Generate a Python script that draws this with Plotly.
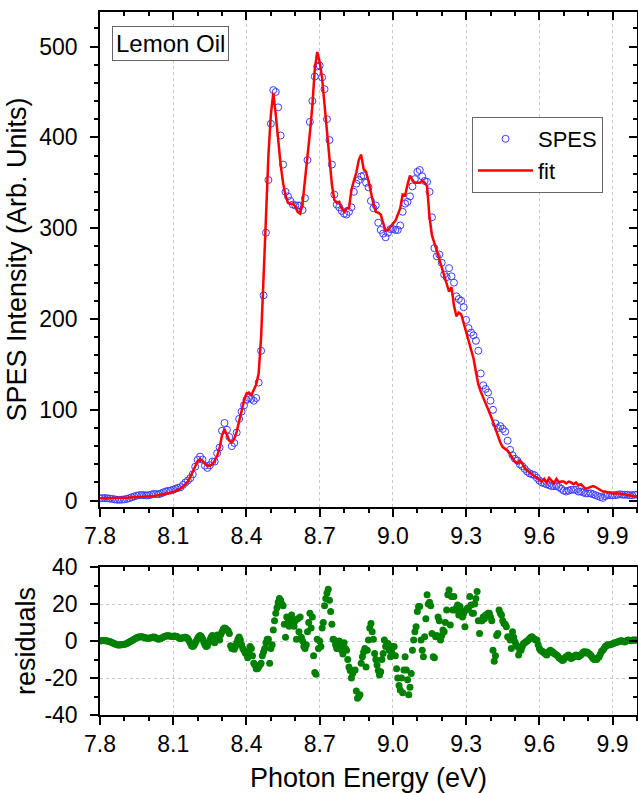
import numpy as np
import plotly.graph_objects as go

# ---------------- data ----------------
E_START = 7.80          # first photon energy (eV)
SPES_STEP = 0.01        # sampling of SPES data and fit
RES_STEP = 0.005        # sampling of residuals

spes_intensity = [
    2.5, 2.8, 2.8, 2.6, 2.3, 1.9, 1.4, 1.0, 0.9, 1.1,
    1.4, 2.0, 2.8, 3.7, 4.6, 5.4, 6.0, 6.2, 6.0, 5.8,
    6.0, 6.6, 7.4, 7.2, 7.0, 7.9, 9.1, 10.1, 10.8, 11.2,
    12.1, 13.2, 14.0, 14.8, 17.3, 20.0, 22.2, 24.8, 29.0, 37.3,
    45.0, 48.5, 45.2, 38.5, 36.0, 39.0, 43.0, 43.0, 52.2, 58.5,
    77, 85.5, 78, 70, 60, 63.5, 75, 90, 98, 105,
    111, 113, 112, 110, 113, 130, 165, 226, 295, 353,
    415, 452, 450, 433, 402, 370, 340, 335, 330, 326,
    325, 325, 325, 320, 333, 375, 417, 440, 467, 478,
    479, 466, 453, 420, 397, 370, 337, 326, 323, 319,
    316, 315, 318, 323, 340, 349, 353, 357, 358, 350,
    345, 330, 322, 325, 306, 298, 294, 290, 295, 299,
    299, 298, 298, 303, 318, 327, 329, 335, 346, 354,
    362, 364, 357, 352, 351, 340, 312, 278, 269, 271,
    262, 249, 246, 256, 247, 240, 225, 222, 220, 213,
    199, 190, 185, 182, 176, 165, 140, 127, 123, 119,
    110, 100, 85, 80, 82, 79, 76, 66, 56, 50,
    46, 44, 40, 38, 35, 32, 30, 29, 28, 25,
    22, 20, 19, 18, 17, 16, 16, 16, 15, 13,
    11, 10, 11, 12, 12, 12, 10, 10, 9, 8,
    8, 8, 7, 6, 5, 4, 3, 5, 6, 6,
    6, 6, 6.5, 7, 6.5, 6.5, 6.5, 6, 6, 6.5,
    6.5,
]

fit_intensity = [
    2.5, 2.5, 2.6, 2.6, 2.7, 2.8, 2.9, 3.0, 3.0, 3.1,
    3.2, 3.3, 3.4, 3.5, 3.6, 3.7, 3.8, 3.9, 4.0, 4.2,
    4.5, 4.8, 5.2, 5.6, 6.0, 6.4, 6.9, 7.4, 8.0, 8.6,
    9.5, 10.6, 12.0, 13.5, 15.5, 18.0, 21.0, 26.0, 32.0, 38.5,
    43.5, 45.5, 44.0, 40.5, 38.5, 38.5, 40.0, 44.0, 49.0, 58.0,
    72, 78.5, 72, 66, 64, 68, 76, 88, 100, 110,
    118, 119, 116, 122, 128, 140, 180, 245, 320, 380,
    425, 449, 425, 397, 370, 350, 336, 328, 327, 327,
    324, 318, 316, 328, 352, 380, 405, 435, 475, 494,
    483, 465, 437, 403, 373, 348, 331, 328, 329, 322,
    318, 322, 322, 342, 352, 361, 375, 381, 365, 362,
    352, 338, 327, 318, 317, 315, 307, 297, 298, 302,
    305, 308, 315, 322, 337, 336, 348, 358, 353, 350,
    350, 350, 352, 350, 346, 312, 292, 282, 275, 266,
    257, 248, 238, 230, 235, 215, 203, 207, 205, 195,
    185, 175, 166, 157, 142, 128, 120, 114, 108, 100,
    94, 87, 79, 72, 64, 59, 57, 55, 51, 47,
    43, 41, 44, 41, 36, 33, 31, 28, 26, 24,
    23, 21, 24, 20, 25, 22, 19, 24, 20, 21,
    21, 19, 21, 20, 18, 20, 17, 18, 15, 13,
    14, 15, 16, 15, 13, 11, 10, 10, 9, 9,
    8, 8, 8, 8, 7, 7, 6, 6, 5, 5,
    5,
]

residuals = [
    0, 0.2, 0.3, 0.3, 0.2, 0.1, 0, -0.2, -0.4, -0.6,
    -0.9, -1.2, -1.5, -1.8, -2.0, -2.1, -2.1, -2.0, -2.0, -1.9,
    -1.8, -1.6, -1.3, -1.0, -0.6, -0.2, 0.2, 0.6, 1.0, 1.4,
    1.7, 2.0, 2.2, 2.3, 2.3, 2.2, 2.0, 1.8, 1.6, 1.5,
    1.5, 1.6, 1.8, 2.0, 2.2, 2.0, 1.6, 1.2, 1.0, 1.2,
    1.5, 1.8, 2.2, 2.5, 2.7, 2.8, 2.8, 2.7, 2.6, 2.5,
    2.6, 2.7, 2.6, 2.4, 2.0, 1.5, 1.3, 1.5, 1.8, 2.0,
    2.0, 1.8, 1.2, 0.2, -1.2, -2.5, -3.0, -2.4, -1.2, 0.2,
    1.5, 2.5, 3.0, 2.5, 1.2, -0.5, -2.0, -3.0, -2.5, -1.0,
    0.5, 2.0, 3.0, 2.2, -1.0, 1.5, 3.2, 2.0, 0.5, 3.5,
    5.0, 6.5, 7.0, 6.8, 6.0, 5.5, 4.0, -2.5, -4.0, -3.5,
    -4.5, -3.0, -1.0, 1.0, 2.2, 0.5, -2.0, -4.0, -5.0, -6.5,
    -7, -9, -6, -3, -4, -8, -12, -13, -15, -15,
    -14, -13, -12, -8, -6, -4, -1, 1, 1, -12,
    -4, -2, 6, 11, 15, 18, 21, 23, 22, 20,
    19, 9, 2, 13, 10, 8, 12, 14, 11, 8,
    11, 1, 12, 5, 13, 2, 0, -3, -4, -2,
    5, 10, 15, 7, 13, -8, -17, -18, 1, -4,
    0, -3, 7, 10, 19, 23, 26, 28, 22, 16,
    9, 1, 0.5, -2, -4, -4, 0, -3, -5, -7,
    -1, -4, -5, -10, -14, -16, -20, -17.5, -16, -15.7,
    -27, -31, -30, -29, -12, -8.5, -6, -4, -14, -5,
    0.5, 7, 9.5, 5, 1, -6.7, -10, -13, -16, -18.4,
    -16.6, -10, -6.7, 0.5, -3, -2, -1.3, -5, -8.5, -6,
    -3, -3, -8, -15, -20, -24, -26.5, -20, -28, -15.7,
    -8.5, -15.7, -21, -29, -25, -17.5, -5, 0.5, 5, 7.7,
    16, 18.6, 18.6, 0.5, -5, -8.5, 2.3, 12, 25, 20,
    21, 19, 4, -8.5, -9, 2.3, 3, 13, 11, 0.5,
    3, 6, 5, 10, 16.8, 25, 27.6, 8.6, 24, 16.8,
    24, 16.8, 18, 19.5, 14, 18.6, 16, 13, 15, 7.7,
    16.8, 17.7, 18, 24, 19.5, 15, 15, 20, 23, 26.7,
    11, 4, 11, 11, 13, 12, 14, 14, 15, 15,
    13, 11, -5, -11, -8, 3, 4, 16.8, 15, 14,
    11, 9.5, 9, 7.7, 2.3, 2, 0.5, -4, 5, 2,
    -0.4, -2, -3, -7.6, -5, -5, -3, -1.3, -1, -0.4,
    0, 0.5, 1.4, 2, 2.3, 1.5, 1, 0.5, 0.5, -2,
    -4, -5, -5.5, -5.8, -6.5, -7, -7.6, -6.5, -5.5, -5,
    -5.5, -6, -6.7, -7, -7.6, -8, -9, -9.5, -10, -10.5,
    -10, -9, -8.5, -8, -7.6, -8.5, -9.4, -9, -8.5, -8,
    -7.6, -8, -8.5, -8, -7.5, -6.7, -6, -5.8, -6.5, -6,
    -6.5, -7, -7.6, -8.5, -9.4, -10, -10, -10, -9, -8.5,
    -7, -5.5, -5, -4, -3, -2.5, -2, -2, -2, -1.8,
    -1.5, -1.2, -1, -0.8, -0.5, -0.3, 0, 0.2, 0, -0.3,
    -0.5, 0, 0.3, 0.5, 0.3, 0.2, 0.4, 0.5, 0.5, 0.4,
    0.5,
]

energy = np.round(E_START + SPES_STEP * np.arange(len(spes_intensity)), 3)
energy_res = np.round(E_START + RES_STEP * np.arange(len(residuals)), 3)

X_RANGE = [7.8, 10.0]
X_TICK0, X_DTICK, X_MINOR = 7.8, 0.3, 0.1
Y_RANGE = [-7, 538]
Y_DTICK, Y_MINOR = 100, 20
RES_RANGE = [-40, 40]
RES_TICKS = [-40, -20, 0, 20, 40]
RES_TICK_LABELS = ["-40", "-20", "0", "20", "40"]
RES_MINOR_TICKS = [-30, -10, 10, 30]

# ---------------- layout geometry ----------------
W, H = 638, 793
FONT = "Arial, Liberation Sans, Helvetica, sans-serif"
x_dom = [100 / W, 637 / W]
top_dom = [(H - 507) / H, (H - 12) / H]
bot_dom = [(H - 715) / H, (H - 567) / H]

fig = go.Figure()

fig.add_trace(go.Scatter(
    x=energy, y=spes_intensity, mode="markers", name="SPES",
    marker=dict(symbol="circle-open", size=7, color="rgb(60,60,255)",
                line=dict(width=1, color="rgb(60,60,255)")),
    xaxis="x", yaxis="y"))
fig.add_trace(go.Scatter(
    x=energy, y=fit_intensity, mode="lines", name="fit",
    line=dict(color="#ff0000", width=2.5),
    xaxis="x", yaxis="y"))
fig.add_trace(go.Scatter(
    x=energy_res, y=residuals, mode="markers", name="residuals",
    marker=dict(symbol="circle", size=7, color="#008000"),
    showlegend=False, xaxis="x2", yaxis="y2"))
# empty traces so the mirrored (inside-tick) frame axes are drawn
for xa, ya in (("x3", "y3"), ("x4", "y4")):
    fig.add_trace(go.Scatter(x=[None], y=[None], mode="markers",
                             showlegend=False, hoverinfo="skip",
                             xaxis=xa, yaxis=ya))

line_kw = dict(showline=True, linecolor="black", linewidth=1.5,
               tickcolor="black", tickwidth=1.5, automargin=False,
               zeroline=False)
tickfont = dict(family=FONT, size=23, color="black")
titlefont = dict(family=FONT, size=27, color="black")
grid_kw = dict(gridcolor="#c8c8c8", gridwidth=1, griddash="dot")


def x_main(domain, anchor, grid=True, title=None):
    d = dict(domain=domain, anchor=anchor, range=X_RANGE, tickmode="linear",
             tick0=X_TICK0, dtick=X_DTICK, tickformat=".1f", ticks="outside",
             ticklen=8, tickfont=tickfont, showgrid=grid, ticklabelstandoff=0,
             minor=dict(tick0=X_TICK0, dtick=X_MINOR, ticks="outside", ticklen=4,
                        tickwidth=1.5, tickcolor="black", showgrid=False),
             **grid_kw, **line_kw)
    if title:
        d["title"] = dict(text=title, font=titlefont, standoff=12)
    return d


def x_mirror(overlay, anchor):
    return dict(overlaying=overlay, anchor=anchor, side="top", range=X_RANGE,
                tickmode="linear", tick0=X_TICK0, dtick=X_DTICK, ticks="inside",
                ticklen=8, showticklabels=False, showgrid=False,
                minor=dict(tick0=X_TICK0, dtick=X_MINOR, ticks="inside", ticklen=4,
                           tickwidth=1.5, tickcolor="black", showgrid=False),
                **line_kw)


fig.update_layout(
    width=W, height=H, margin=dict(l=0, r=0, t=0, b=0),
    paper_bgcolor="white", plot_bgcolor="white", template="none",
    font=dict(family=FONT, size=23, color="black"),
    xaxis=x_main(x_dom, "y"),
    xaxis2=x_main(x_dom, "y2", title="Photon Energy (eV)"),
    xaxis3=x_mirror("x", "y"),
    xaxis4=x_mirror("x2", "y2"),
    yaxis=dict(domain=top_dom, anchor="x", range=Y_RANGE, tickmode="linear",
               tick0=0, dtick=Y_DTICK, ticks="outside", ticklen=8,
               tickfont=tickfont, showgrid=False, ticklabelstandoff=8,
               minor=dict(tick0=0, dtick=Y_MINOR, ticks="outside", ticklen=4,
                          tickwidth=1.5, tickcolor="black", showgrid=False),
               title=dict(text="SPES Intensity (Arb. Units)", font=titlefont,
                          standoff=5),
               **line_kw),
    yaxis2=dict(domain=bot_dom, anchor="x2", range=RES_RANGE, tickmode="array",
                tickvals=RES_TICKS, ticktext=RES_TICK_LABELS, ticks="outside",
                ticklen=8, tickfont=tickfont, showgrid=True, ticklabelstandoff=8,
                minor=dict(tickvals=RES_MINOR_TICKS, ticks="outside", ticklen=4,
                           tickwidth=1.5, tickcolor="black", showgrid=False),
                title=dict(text="residuals", font=titlefont, standoff=1),
                **grid_kw, **line_kw),
    yaxis3=dict(overlaying="y", anchor="x", side="right", range=Y_RANGE,
                tickmode="linear", tick0=0, dtick=Y_DTICK, ticks="inside",
                ticklen=8, showticklabels=False, showgrid=False,
                minor=dict(tick0=0, dtick=Y_MINOR, ticks="inside", ticklen=4,
                           tickwidth=1.5, tickcolor="black", showgrid=False),
                **line_kw),
    yaxis4=dict(overlaying="y2", anchor="x2", side="right", range=RES_RANGE,
                tickmode="array", tickvals=RES_TICKS, ticks="inside", ticklen=8,
                showticklabels=False, showgrid=False,
                minor=dict(tickvals=RES_MINOR_TICKS, ticks="inside", ticklen=4,
                           tickwidth=1.5, tickcolor="black", showgrid=False),
                **line_kw),
    legend=dict(x=472 / W, y=(H - 117) / H, xanchor="left", yanchor="top",
                bordercolor="#666666", borderwidth=1, bgcolor="white",
                font=dict(family=FONT, size=22, color="black"),
                tracegroupgap=0, itemwidth=55),
    annotations=[dict(text="Lemon Oil", xref="paper", yref="paper",
                      x=112 / W, y=(H - 26) / H, xanchor="left", yanchor="top",
                      showarrow=False, bordercolor="#666666", borderwidth=1,
                      borderpad=3, bgcolor="white",
                      font=dict(family=FONT, size=24, color="black"))],
    showlegend=True,
)

fig.write_html("out.html",
               config={"displayModeBar": False},
               post_script="document.body.style.margin='0px';"
                           "document.body.style.overflow='hidden';")
